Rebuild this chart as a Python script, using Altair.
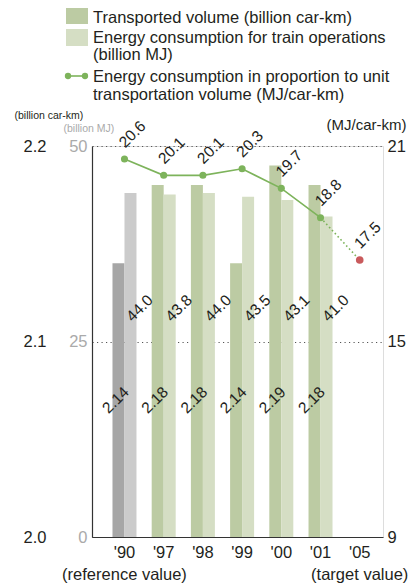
import altair as alt
import pandas as pd

# ---------------- data ----------------
years = ["'90", "'97", "'98", "'99", "'00", "'01", "'05"]
bar_years = ["'90", "'97", "'98", "'99", "'00", "'01"]
volume = [2.14, 2.18, 2.18, 2.14, 2.19, 2.18]            # billion car-km
energy = [44.0, 43.8, 44.0, 43.5, 43.1, 41.0]            # billion MJ
intensity = [20.6, 20.1, 20.1, 20.3, 19.7, 18.8, 17.5]   # MJ/car-km
reference_year = "'90"
target_year = "'05"
last_actual_year = "'01"

vol_ticks = [2.0, 2.1, 2.2]
en_ticks = [0, 25, 50]
int_ticks = [9, 15, 21]

legend_lines = [
    "Transported volume (billion car-km)",
    "Energy consumption for train operations",
    "(billion MJ)",
    "Energy consumption in proportion to unit",
    "transportation volume (MJ/car-km)",
]

# ---------------- tables ----------------
vol_df = pd.DataFrame({"year": bar_years, "series": "vol", "value": volume})
vol_df["kind"] = ["vol_ref" if y == reference_year else "vol" for y in bar_years]
en_df = pd.DataFrame({"year": bar_years, "series": "en", "value": energy})
en_df["kind"] = ["en_ref" if y == reference_year else "en" for y in bar_years]
int_df = pd.DataFrame({"year": years, "value": intensity})
actual_df = int_df[int_df.year != target_year]
target_df = int_df[int_df.year == target_year]
proj_df = int_df[int_df.year.isin([last_actual_year, target_year])]
one = pd.DataFrame({"k": [0]})

# ---------------- style ----------------
FONT = "Liberation Sans, Arial, Helvetica, sans-serif"
INK = "#231f20"
GREEN = "#7db35b"
RED = "#c95a5c"
DARK_GREEN_BAR = "#bccba3"
LIGHT_GREEN_BAR = "#d5dec4"
DARK_GRAY_BAR = "#a6a6a6"
LIGHT_GRAY_BAR = "#cbcbcb"

label_expr = (
    "datum.value == \"'90\" ? [\"'90\", '(reference value)'] : "
    "datum.value == \"'05\" ? [\"'05\", '(target value)'] : datum.value"
)

x_enc = alt.X(
    "year:N",
    sort=years,
    scale=alt.Scale(domain=years, paddingInner=0.388, paddingOuter=0.405, align=0.645),
    axis=alt.Axis(
        title=None, labelAngle=0, ticks=False, domain=True, domainColor="#333333",
        domainWidth=1.2, labelPadding=7, labelFont=FONT, labelFontSize=16.5,
        labelColor=INK, labelLineHeight=22, labelOverlap=False, labelExpr=label_expr,
        labelBaseline="top",
    ),
)
off_enc = alt.XOffset(
    "series:N", sort=["vol", "en"],
    scale=alt.Scale(domain=["vol", "en"], paddingInner=0, paddingOuter=0),
)
color_enc = alt.Color(
    "kind:N",
    scale=alt.Scale(
        domain=["vol_ref", "vol", "en_ref", "en"],
        range=[DARK_GRAY_BAR, DARK_GREEN_BAR, LIGHT_GRAY_BAR, LIGHT_GREEN_BAR],
    ),
    legend=None,
)

# transported volume bars (billion car-km), outer left axis
vol_y = alt.Y(
    "value:Q",
    scale=alt.Scale(domain=[2.0, 2.2], zero=False, nice=False),
    axis=alt.Axis(
        orient="left", values=vol_ticks, format=".1f", domain=False, ticks=False,
        grid=False, labelPadding=46, labelFont=FONT, labelFontSize=16.5, labelColor=INK,
        title="(billion car-km)", titleAngle=0, titleX=-78, titleY=-31,
        titleAlign="left", titleBaseline="middle", titleFont=FONT,
        titleFontSize=10.5, titleFontWeight="normal", titleColor=INK,
    ),
)
vol_bars = alt.Chart(vol_df).mark_bar().encode(
    x=x_enc, xOffset=off_enc, y=vol_y, y2=alt.Y2Datum(2.0), color=color_enc
)

# energy bars (billion MJ), inner left axis with the grid
en_y = alt.Y(
    "value:Q",
    scale=alt.Scale(domain=[0, 50], nice=False),
    axis=alt.Axis(
        orient="left", values=en_ticks, domain=True, domainColor="#333333",
        domainWidth=1.2, ticks=False, grid=True, gridDash=[1.2, 3.3],
        gridColor="#555555", gridWidth=1, labelPadding=5, labelFont=FONT,
        labelFontSize=16.5, labelColor="#aaaaaa",
        title="(billion MJ)", titleAngle=0, titleX=-29, titleY=-18,
        titleAlign="left", titleBaseline="middle", titleFont=FONT,
        titleFontSize=10.5, titleFontWeight="normal", titleColor="#aaaaaa",
    ),
)
en_bars = alt.Chart(en_df).mark_bar().encode(
    x=x_enc, xOffset=off_enc, y=en_y, color=color_enc
)

# intensity line (MJ/car-km), right axis
int_y = alt.Y(
    "value:Q",
    scale=alt.Scale(domain=[9, 21], zero=False, nice=False),
    axis=alt.Axis(
        orient="right", values=int_ticks, domain=False, ticks=False, grid=False,
        labelPadding=4, labelFont=FONT, labelFontSize=16.5, labelColor=INK,
        title="(MJ/car-km)", titleAngle=0, titleX=23, titleY=-22,
        titleAlign="right", titleBaseline="middle", titleFont=FONT,
        titleFontSize=15, titleFontWeight="normal", titleColor=INK,
    ),
)
solid_line = alt.Chart(actual_df).mark_line(color=GREEN, strokeWidth=1.6).encode(x=x_enc, y=int_y)
dotted_line = alt.Chart(proj_df).mark_line(
    color=GREEN, strokeWidth=1.6, strokeDash=[1.6, 2.6]
).encode(x=x_enc, y=int_y)
green_pts = alt.Chart(actual_df).mark_circle(color=GREEN, size=50, opacity=1).encode(x=x_enc, y=int_y)
red_pt = alt.Chart(target_df).mark_circle(color=RED, size=58, opacity=1).encode(x=x_enc, y=int_y)
int_labels = alt.Chart(int_df).mark_text(
    angle=315, align="left", baseline="middle", dx=8, dy=-12,
    font=FONT, fontSize=15.5, color=INK,
).encode(x=x_enc, y=int_y, text=alt.Text("value:Q", format=".1f"))
line_group = alt.layer(solid_line, dotted_line, green_pts, red_pt, int_labels)

# value labels on bars
vol_labels = alt.Chart(vol_df).mark_text(
    angle=315, align="center", baseline="middle", dy=-4,
    font=FONT, fontSize=15.5, color=INK,
).encode(x=x_enc, xOffset=off_enc, y=alt.value(257),
         text=alt.Text("value:Q", format=".2f"))
en_labels = alt.Chart(en_df).mark_text(
    angle=315, align="center", baseline="middle", dy=13,
    font=FONT, fontSize=15.5, color=INK,
).encode(x=x_enc, xOffset=off_enc, y=alt.value(153),
         text=alt.Text("value:Q", format=".1f"))

# ---------------- legend (drawn in the top padding) ----------------
sw1 = alt.Chart(one).mark_rect(color=DARK_GREEN_BAR).encode(
    x=alt.value(-26), x2=alt.value(-4), y=alt.value(-138), y2=alt.value(-122))
sw2 = alt.Chart(one).mark_rect(color=LIGHT_GREEN_BAR).encode(
    x=alt.value(-26), x2=alt.value(-4), y=alt.value(-117), y2=alt.value(-100))
sw3_line = alt.Chart(one).mark_rule(color=GREEN, strokeWidth=1.6).encode(
    x=alt.value(-24), x2=alt.value(-7), y=alt.value(-70))
sw3_a = alt.Chart(one).mark_circle(color=GREEN, size=40, opacity=1).encode(
    x=alt.value(-24), y=alt.value(-70))
sw3_b = alt.Chart(one).mark_circle(color=GREEN, size=40, opacity=1).encode(
    x=alt.value(-7), y=alt.value(-70))

legend_y = [-128, -108, -91, -69, -51]
legend_texts = [
    alt.Chart(one).mark_text(
        text=t, align="left", baseline="middle", font=FONT, fontSize=16.5, color=INK
    ).encode(x=alt.value(1), y=alt.value(yy))
    for t, yy in zip(legend_lines, legend_y)
]

chart = alt.layer(
    vol_bars, en_bars, line_group, vol_labels, en_labels,
    sw1, sw2, sw3_line, sw3_a, sw3_b, *legend_texts,
).resolve_scale(y="independent").properties(
    width=291, height=391,
    padding={"left": 84, "top": 138, "right": 27, "bottom": 46},
    autosize=alt.AutoSizeParams(type="none"),
).configure_view(stroke=None).configure(background="white")

chart.save("out.html", embed_options={"renderer": "svg", "actions": False})
